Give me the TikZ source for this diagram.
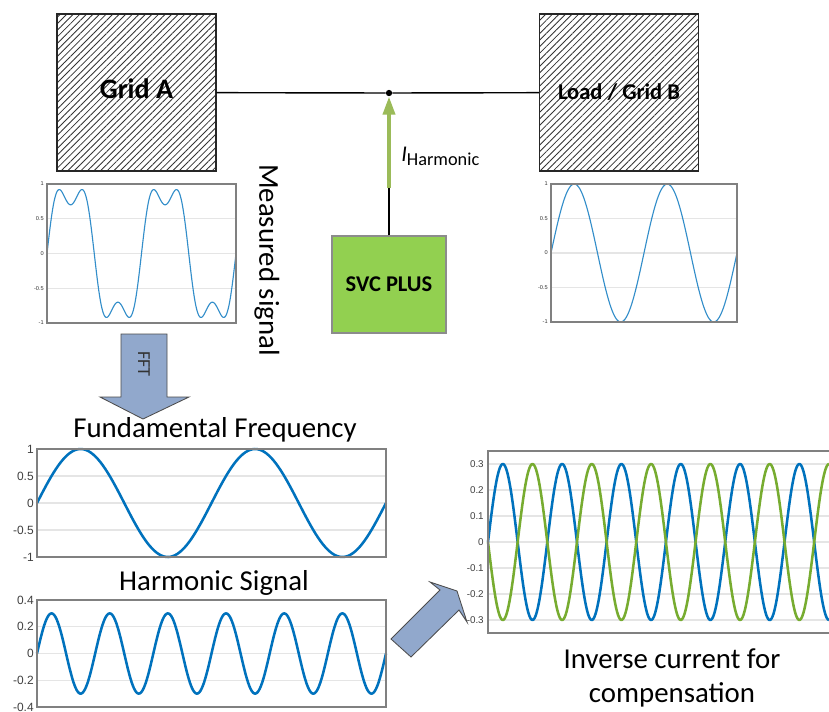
\documentclass[tikz,border=0pt]{standalone}
\usepackage{fontspec}
\setmainfont{Carlito}
\newfontfamily\tickfont{Liberation Sans}
\usepackage{xcolor}
\usetikzlibrary{arrows.meta,positioning,patterns.meta}

\definecolor{matblue}{RGB}{0,114,189}
\definecolor{matgreen}{RGB}{119,172,48}
\definecolor{svcgreen}{RGB}{146,208,80}
\definecolor{flowgreen}{RGB}{155,187,89}
\definecolor{blockblue}{RGB}{145,168,204}
\definecolor{axisgray}{RGB}{128,128,128}

\begin{document}
\begin{tikzpicture}[x=0.025cm, y=-0.025cm,
    gridbox/.style={rectangle, draw=black!85, line width=1pt, inner sep=0pt,
                    minimum width=3.975cm, minimum height=3.925cm,
                    pattern={Lines[angle=45,distance=3.3pt,line width=0.6pt]}, pattern color=black!80},
    svcbox/.style={rectangle, draw=black!45, fill=svcgreen, line width=0.8pt,
                   minimum width=2.85cm, minimum height=2.425cm, font=\fontsize{16}{19}\selectfont\bfseries},
    tap/.style={circle, fill=black, inner sep=0pt, minimum size=4.5pt},
    wire/.style={black, line width=1pt},
    flow/.style={-{Triangle[length=13pt,width=8.5pt]}, flowgreen, line width=2.8pt},
    blockarrow/.style={fill=blockblue, draw=black!70, line width=0.6pt, line join=miter},
    title/.style={font=\fontsize{20.5}{24}\selectfont, inner sep=0pt},
    axbox/.style={draw=axisgray, line width=1pt},
    gridln/.style={gray!20, line width=0.8pt},
    tick/.style={anchor=east, inner sep=0pt, text=black!75, font=\tickfont\fontsize{8.5}{10}\selectfont},
    smalltick/.style={anchor=east, inner sep=0pt, text=black!80, font=\tickfont\fontsize{4}{5}\selectfont},
    wave/.style={line width=1.8pt, line join=round},
    thinwave/.style={matblue!80, line width=0.8pt, line join=round},
]
\useasboundingbox[fill=white] (0,0) rectangle (829,711);

% Network (top)
\node[gridbox, font=\fontsize{20}{24}\selectfont\bfseries] (grida) at (136.5,92.5) {\raisebox{6pt}{Grid A}};
\node[gridbox, font=\fontsize{16}{19}\selectfont\bfseries] (gridb) at (619,92.5) {Load / Grid B};
\node[tap] (tap) at (389,93) {};
\draw[wire] (grida) -- (tap) -- (gridb);
\node[svcbox] (svc) at (389,284.5) {SVC PLUS};
\coordinate (ihs) at (389,188);
\draw[wire] (svc) -- (ihs);
\draw[flow] (ihs) -- (tap);
\node[anchor=base west, inner sep=0pt] (ilabel) at (401,161)
    {{\fontsize{16}{19}\selectfont\itshape I}\raisebox{-3.5pt}{\fontsize{13}{15}\selectfont Harmonic}};

% Measured signal (small plot, left)
\foreach \v in {0.5,0,-0.5} \draw[gridln] (47,{253.5-69.5*(\v)}) -- (236,{253.5-69.5*(\v)});
\foreach \v [count=\i] in {1,0.5,0,-0.5,-1} \node[smalltick] (ma\i) at (44,{253.5-69.5*(\v)}) {\v};
\draw[thinwave] plot[domain=0:4*pi, samples=200, smooth] ({47+\x/(4*pi)*189}, {253.5-69.5*(sin(\x r)+0.3*sin(3*\x r))});
\draw[axbox, line width=0.8pt] (47,184) rectangle (236,323);
\node[title, rotate=-90] (measured) at (267,260) {Measured signal};

% Load side signal (small plot, right)
\foreach \v in {0.5,0,-0.5} \draw[gridln] (551,{253-69*(\v)}) -- (737,{253-69*(\v)});
\foreach \v [count=\i] in {1,0.5,0,-0.5,-1} \node[smalltick] (mb\i) at (548,{253-69*(\v)}) {\v};
\draw[thinwave] plot[domain=0:4*pi, samples=150, smooth] ({551+\x/(4*pi)*186}, {253-69*sin(\x r)});
\draw[axbox, line width=0.8pt] (551,184) rectangle (737,322);

% FFT arrow
\filldraw[blockarrow] (121,334) -- (167,334) -- (167,397) -- (189,397) -- (143,419) -- (100,397) -- (121,397) -- cycle;
\node[rotate=-90, font=\fontsize{13}{15}\selectfont, text=black!80] (fft) at (144,364) {FFT};

% Fundamental Frequency
\node[title] (fundtitle) at (215,430) {Fundamental Frequency};
\foreach \v in {0.5,0,-0.5} \draw[gridln] (37,{503-54*(\v)}) -- (386,{503-54*(\v)});
\foreach \v [count=\i] in {1,0.5,0,-0.5,-1} \node[tick] (ft\i) at (34,{503-54*(\v)}) {\v};
\draw[wave, matblue] plot[domain=0:4*pi, samples=150, smooth] ({37+\x/(4*pi)*349}, {503-54*sin(\x r)});
\draw[axbox] (37,449) rectangle (386,557);

% Harmonic Signal
\node[title] (harmtitle) at (214,583) {Harmonic Signal};
\foreach \v in {0.2,0,-0.2} \draw[gridln] (37,{653.5-133.75*(\v)}) -- (386,{653.5-133.75*(\v)});
\foreach \v [count=\i] in {0.4,0.2,0,-0.2,-0.4} \node[tick] (ht\i) at (34,{653.5-133.75*(\v)}) {\v};
\draw[wave, matblue] plot[domain=0:12*pi, samples=300, smooth] ({37+\x/(12*pi)*349}, {653.5-133.75*0.3*sin(\x r)});
\draw[axbox] (37,600) rectangle (386,707);

% arrow to compensation
\filldraw[blockarrow] (391,639) -- (440,590) -- (430,582) -- (457,591) -- (467,622) -- (459,610) -- (411,657) -- cycle;

% Inverse current for compensation
\foreach \v in {0.3,0.2,0.1,0,-0.1,-0.2,-0.3} \draw[gridln] (488,{542-260*(\v)}) -- (829,{542-260*(\v)});
\foreach \v [count=\i] in {0.3,0.2,0.1,0,-0.1,-0.2,-0.3} \node[tick, font=\tickfont\fontsize{7}{8}\selectfont] (it\i) at (484,{542-260*(\v)}) {\v};
\draw[wave, matblue] plot[domain=0:11.5*pi, samples=400, smooth] ({488+\x/(11.5*pi)*341}, {542-78*sin(\x r)});
\draw[wave, matgreen] plot[domain=0:11.5*pi, samples=400, smooth] ({488+\x/(11.5*pi)*341}, {542+78*sin(\x r)});
\draw[axbox] (829,451) -- (488,451) -- (488,633) -- (829,633);
\node[title, align=center] (invtitle) at (672,678) {Inverse current for\\compensation};
\end{tikzpicture}
\end{document}
